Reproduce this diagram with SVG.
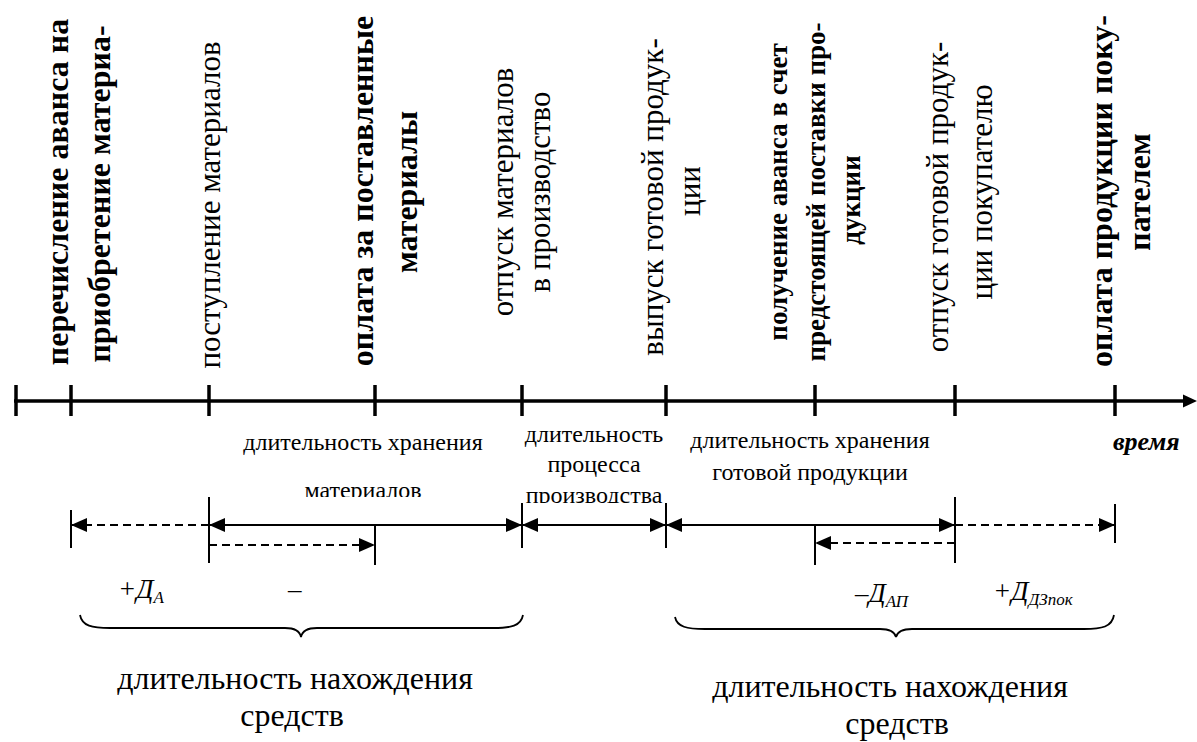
<svg xmlns="http://www.w3.org/2000/svg" width="1197" height="742" viewBox="0 0 1197 742">
<style>
text{font-family:"Liberation Serif","Times New Roman",serif;fill:#000}
.vb{font-size:32px;font-weight:bold;text-anchor:middle}
.vb2{font-size:27px;font-weight:bold;text-anchor:middle}
.vr{font-size:31px;text-anchor:middle}
.lab{font-size:24px;text-anchor:middle}
.big{font-size:32px;text-anchor:middle}
.it{font-size:27px;font-style:italic}
.sub{font-size:17px}
.axis{stroke:#000;stroke-width:3.5;fill:none}
.dim{stroke:#000;stroke-width:2;fill:none}
.dash{stroke:#000;stroke-width:2;fill:none;stroke-dasharray:8 5}
.ext{stroke:#000;stroke-width:2}
.brace{stroke:#000;stroke-width:1.8;fill:none}
</style>
<defs>
<marker id="ah" viewBox="0 0 16 14" refX="16" refY="7" markerWidth="16" markerHeight="14" markerUnits="userSpaceOnUse" orient="auto-start-reverse">
<path d="M0,0 L16,7 L0,14 z" fill="#000"/>
</marker>
<clipPath id="clip1"><rect x="200" y="420" width="320" height="77"/></clipPath>
<clipPath id="clip2"><rect x="520" y="420" width="150" height="83"/></clipPath>
</defs>
<rect width="1197" height="742" fill="#fff"/>

<g id="connectors">
<line class="axis" x1="14" y1="401" x2="1184" y2="401"/>
<path d="M1183,394.5 L1197,401 L1183,407.5 z" fill="#000"/>
<g class="axis">
<line x1="16" y1="385" x2="16" y2="416"/>
<line x1="71" y1="385" x2="71" y2="416"/>
<line x1="209" y1="385" x2="209" y2="416"/>
<line x1="375" y1="385" x2="375" y2="416"/>
<line x1="522" y1="385" x2="522" y2="416"/>
<line x1="666" y1="385" x2="666" y2="416"/>
<line x1="815" y1="385" x2="815" y2="416"/>
<line x1="955" y1="385" x2="955" y2="416"/>
<line x1="1115" y1="385" x2="1115" y2="416"/>
</g>
<g class="ext">
<line x1="71" y1="510" x2="71" y2="548"/>
<line x1="209" y1="497" x2="209" y2="563"/>
<line x1="375" y1="526" x2="375" y2="565"/>
<line x1="522" y1="503" x2="522" y2="548"/>
<line x1="666" y1="503" x2="666" y2="548"/>
<line x1="815" y1="526" x2="815" y2="565"/>
<line x1="955" y1="497" x2="955" y2="563"/>
<line x1="1115" y1="504" x2="1115" y2="543"/>
</g>
<line class="dim" x1="209" y1="525" x2="522" y2="525" marker-start="url(#ah)" marker-end="url(#ah)"/>
<line class="dim" x1="522" y1="525" x2="666" y2="525" marker-start="url(#ah)" marker-end="url(#ah)"/>
<line class="dim" x1="666" y1="525" x2="955" y2="525" marker-start="url(#ah)" marker-end="url(#ah)"/>
<line class="dash" x1="209" y1="525" x2="71" y2="525" marker-end="url(#ah)"/>
<line class="dash" x1="209" y1="545" x2="375" y2="545" marker-end="url(#ah)"/>
<line class="dash" x1="955" y1="543" x2="815" y2="543" marker-end="url(#ah)"/>
<line class="dash" x1="955" y1="525" x2="1115" y2="525" marker-end="url(#ah)"/>
<path class="brace" d="M80,615 C82,626 92,628 110,628 L285,628 C296,628 300,632 301,637 C302,632 306,628 317,628 L493,628 C511,628 521,626 523,615"/>
<path class="brace" d="M675,617 C677,627 687,629 705,629 L880,629 C891,629 895,633 896,637 C897,633 901,629 912,629 L1084,629 C1102,629 1112,627 1114,615"/>
</g>

<g id="ev1">
<text class="vb" transform="translate(68,192) rotate(-90)">перечисление аванса на</text>
<text class="vb" transform="translate(110,194) rotate(-90)">приобретение материа-</text>
</g>
<g id="ev2">
<text class="vr" transform="translate(220,205) rotate(-90)">поступление материалов</text>
</g>
<g id="ev3">
<text class="vb" transform="translate(373,191) rotate(-90)">оплата за поставленные</text>
<text class="vb" transform="translate(417,192) rotate(-90)">материалы</text>
</g>
<g id="ev4">
<text class="vr" transform="translate(513,192) rotate(-90)">отпуск материалов</text>
<text class="vr" transform="translate(550,192) rotate(-90)">в производство</text>
</g>
<g id="ev5">
<text class="vr" transform="translate(663,197) rotate(-90)">выпуск готовой продук-</text>
<text class="vr" transform="translate(700,191) rotate(-90)">ции</text>
</g>
<g id="ev6">
<text class="vb2" transform="translate(787,192) rotate(-90)">получение аванса в счет</text>
<text class="vb2" transform="translate(825,192) rotate(-90)">предстоящей поставки про-</text>
<text class="vb2" transform="translate(860,200) rotate(-90)">дукции</text>
</g>
<g id="ev7">
<text class="vr" transform="translate(948,197) rotate(-90)">отпуск готовой продук-</text>
<text class="vr" transform="translate(992,192) rotate(-90)">ции покупателю</text>
</g>
<g id="ev8">
<text class="vb" transform="translate(1112,191) rotate(-90)">оплата продукции поку-</text>
<text class="vb" transform="translate(1150,192) rotate(-90)">пателем</text>
</g>

<g id="lbl-storage-materials" clip-path="url(#clip1)">
<text class="lab" x="363" y="450">длительность хранения<tspan x="363" dy="48">материалов</tspan></text>
</g>
<g id="lbl-production" clip-path="url(#clip2)">
<text class="lab" x="594" y="442">длительность<tspan x="594" dy="30">процесса</tspan><tspan x="594" dy="31">производства</tspan></text>
</g>
<g id="lbl-storage-goods">
<text class="lab" x="810" y="448">длительность хранения<tspan x="810" dy="32">готовой продукции</tspan></text>
</g>
<g id="lbl-time">
<text x="1113" y="450" style="font-size:26px;font-weight:bold;font-style:italic">время</text>
</g>

<g id="lbl-da">
<text class="it" x="118" y="598">+Д<tspan class="sub" dy="5">А</tspan></text>
</g>
<g id="lbl-minus">
<text class="it" x="288" y="598">–</text>
</g>
<g id="lbl-dap">
<text class="it" x="855" y="602">–Д<tspan class="sub" dy="5">АП</tspan></text>
</g>
<g id="lbl-ddz">
<text class="it" x="993" y="600">+Д<tspan class="sub" dy="5">ДЗпок</tspan></text>
</g>

<g id="brace-left-label">
<text class="big" x="295" y="689">длительность нахождения<tspan x="292" dy="37">средств</tspan></text>
</g>
<g id="brace-right-label">
<text class="big" x="890" y="697">длительность нахождения<tspan x="897" dy="37">средств</tspan></text>
</g>
</svg>
